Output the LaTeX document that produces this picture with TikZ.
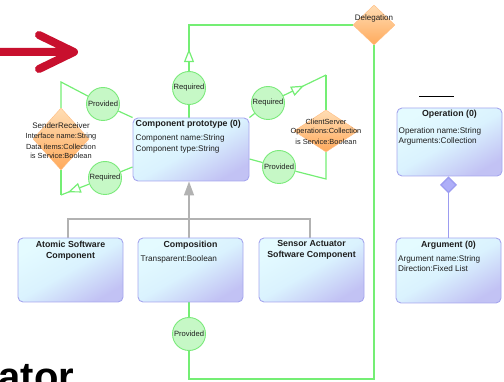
\documentclass[tikz,border=0pt]{standalone}
\usepackage{fontspec}
\setmainfont{Liberation Sans}
\usetikzlibrary{shapes.geometric,arrows.meta,decorations.markings,backgrounds}

\definecolor{wire}{HTML}{74EE74}
\definecolor{portfill}{HTML}{C6F8C6}
\definecolor{portedge}{HTML}{7AEA7A}
\definecolor{boxedge}{HTML}{A6A6EE}
\definecolor{boxtop}{HTML}{E4FBFF}
\definecolor{boxmid}{HTML}{DAF2FE}
\definecolor{boxbot}{HTML}{C2C2F4}
\definecolor{ifacetop}{HTML}{FFDDB4}
\definecolor{ifacebot}{HTML}{FFAA5C}
\definecolor{ifaceedge}{HTML}{FFBC80}
\definecolor{inheritgray}{HTML}{B2B2B2}
\definecolor{aggline}{HTML}{9C9CF0}
\definecolor{aggfill}{HTML}{AEAEF8}
\definecolor{signal}{HTML}{C8102E}
\definecolor{ink}{HTML}{1E1E1E}

\tikzset{
  classbox/.style={draw=boxedge, line width=0.9pt, rounded corners=5pt,
    top color=boxtop, bottom color=boxbot, middle color=boxmid,
    shading angle=30, inner sep=0pt},
  iface/.style={diamond, inner sep=0pt, draw=ifaceedge, line width=0.4pt,
    top color=ifacetop, bottom color=ifacebot},
  port/.style={circle, inner sep=0pt, minimum size=33pt, draw=portedge,
    line width=0.9pt, fill=portfill, text=ink,
    font=\fontsize{7.6}{9}\selectfont},
  ttl/.style={inner sep=0pt, text=ink, font=\bfseries\fontsize{8.8}{11}\selectfont},
  txt/.style={inner sep=0pt, text=ink, font=\fontsize{8.2}{10}\selectfont},
  ifacetxt/.style={inner sep=0pt, text=ink, font=\fontsize{7.4}{9}\selectfont},
  ifacettl/.style={inner sep=0pt, text=ink, font=\fontsize{8}{9}\selectfont},
  wireline/.style={draw=wire, line width=1.2pt},
  opentip/.style={postaction={decorate}, decoration={markings,
    mark=at position #1 with {\arrow{Triangle[length=13pt,width=10pt,fill=white]}}}},
  inheritline/.style={draw=inheritgray, line width=1.6pt},
}

\begin{document}
\begin{tikzpicture}[x=1pt,y=-1pt]
\path[use as bounding box, clip] (0,0) rectangle (504,382);

% classes
\node[classbox, minimum width=116pt, minimum height=63pt] (cp) at (191,149.5) {};
\node[ttl, anchor=west] (cpT) at (135.5,124) {Component prototype (0)};
\node[txt, anchor=west] (cpA) at (135.5,138) {Component name:String};
\node[txt, anchor=west] (cpB) at (135.5,149) {Component type:String};

\node[classbox, minimum width=105pt, minimum height=64pt] (atomic) at (70.5,270) {};
\node[ttl, align=center, anchor=north] (atomicT) at (70.5,240.5) {Atomic Software\\Component};

\node[classbox, minimum width=105pt, minimum height=64pt] (comp) at (190.5,270) {};
\node[ttl] (compT) at (190.5,245) {Composition};
\node[txt, anchor=west] (compA) at (140.5,259) {Transparent:Boolean};

\node[classbox, minimum width=105pt, minimum height=64pt] (sensor) at (311.5,270) {};
\node[ttl, align=center, anchor=north] (sensorT) at (311.5,240.5) {Sensor Actuator\\Software Component};

\node[classbox, minimum width=105pt, minimum height=68pt] (op) at (449.5,142) {};
\node[ttl] (opT) at (449.5,114) {Operation (0)};
\node[txt, anchor=west] (opA) at (398.5,131) {Operation name:String};
\node[txt, anchor=west] (opB) at (398.5,141) {Arguments:Collection};

\node[classbox, minimum width=105pt, minimum height=65pt] (arg) at (448.5,270.5) {};
\node[ttl] (argT) at (448.5,245) {Argument (0)};
\node[txt, anchor=west] (argA) at (398,259) {Argument name:String};
\node[txt, anchor=west] (argB) at (398,269) {Direction:Fixed List};

% interfaces
\node[iface, minimum width=56pt, minimum height=62pt] (sr) at (61,139) {};
\node[ifacettl] (srT) at (61,126) {SenderReceiver};
\node[ifacetxt] (srA) at (61,137) {Interface name:String};
\node[ifacetxt] (srB) at (61,147) {Data items:Collection};
\node[ifacetxt] (srC) at (61,156) {is Service:Boolean};

\node[iface, minimum width=64pt, minimum height=42pt] (cs) at (326,131) {};
\node[ifacetxt] (csT) at (326,122) {ClientServer};
\node[ifacetxt] (csA) at (326,132) {Operations:Collection};
\node[ifacetxt] (csB) at (326,142) {is Service:Boolean};

\node[iface, minimum width=42pt, minimum height=40pt] (deleg) at (374,25) {};
\node[ifacettl] (delegT) at (374,18) {Delegation};

% ports
\node[port] (reqTop) at (189,88) {Required};
\node[port] (provL) at (103,104) {Provided};
\node[port] (reqL) at (105,178) {Required};
\node[port] (reqR) at (268,103) {Required};
\node[port] (provR) at (279,167) {Provided};
\node[port] (provB) at (189,334) {Provided};

% bends of the connectors
\coordinate (srUp) at (61,82);
\coordinate (srDown) at (61,195);
\coordinate (csUp) at (326,75);
\coordinate (csDown) at (326,179);
\coordinate (dLow) at (374,379);
\coordinate (pLow) at (189,379);
\coordinate (gl) at (68,219);
\coordinate (gr) at (310,219);

\begin{scope}[on background layer]
  % delegation and ports
  \draw[wireline, opentip=22pt] (reqTop) |- (deleg);
  \draw[wireline] (reqTop |- cp.north) -- (reqTop);
  \draw[wireline] (cp.north west) -- (provL) -- (srUp) -- (sr);
  \draw[wireline] (sr) -- (srDown);
  \draw[wireline, opentip=23pt] (reqL) -- (srDown);
  \draw[wireline] (reqL) -- ([yshift=-17.5pt]cp.west);
  \draw[wireline] (cp.north east) -- (reqR);
  \draw[wireline, opentip=23pt] (reqR) -- (csUp);
  \draw[wireline] (csUp) -- (cs);
  \draw[wireline] (cs) -- (csDown) -- (provR) -- ([yshift=-9.5pt]cp.east);
  \draw[wireline] (deleg) -- (dLow) -- (pLow) -- (provB);
  \draw[wireline] (provB) -- (comp.south -| provB);
  % generalisation
  \draw[inheritline] (atomic.north -| gl) -- (gl) -- (gr) -- (sensor.north -| gr);
  \draw[inheritline, -{Triangle[length=14pt,width=10pt]}] (comp.north -| provB) -- (cp.south -| provB);
\end{scope}

% aggregation
\draw[draw=aggline, line width=1.3pt, -{Diamond[length=17pt,width=17pt,fill=aggfill]}] (arg) -- (arg |- op.south);
\draw[line width=1pt] (419,97) -- (454,97);

% pointer arrow
\draw[signal, line width=8pt, line cap=round, line join=round]
  (-10,52) -- (73,52) (39,35) -- (74,52) -- (39,69);

% heading fragment
\node[inner sep=0pt, anchor=base west, font=\bfseries\fontsize{40}{40}\selectfont] (word) at (-1.5,391) {ator};
\end{tikzpicture}
\end{document}
